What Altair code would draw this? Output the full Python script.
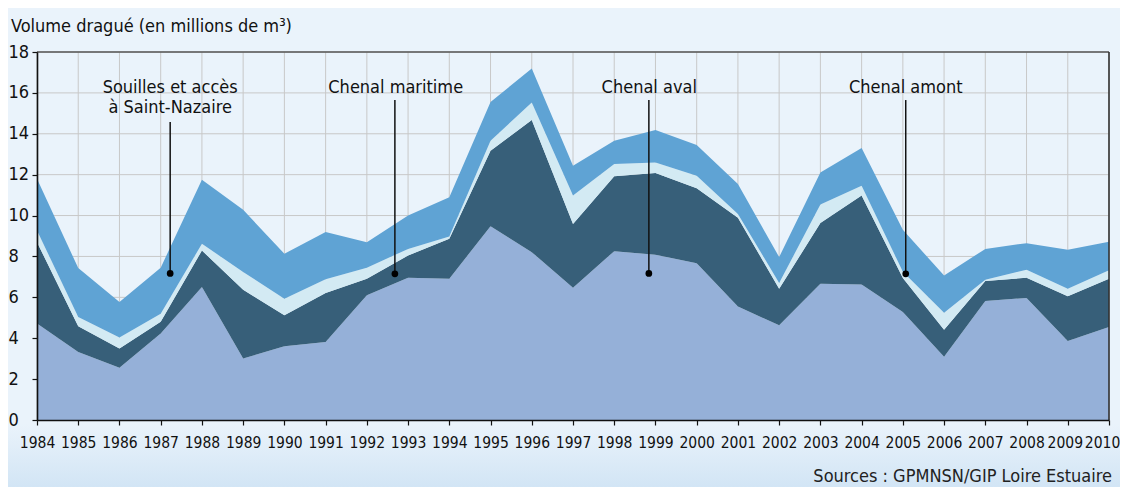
import altair as alt
import pandas as pd

years = list(range(1984, 2011))

# bottom -> top
chenal_aval = [4.72, 3.33, 2.55, 4.23, 6.50, 3.01, 3.61, 3.82, 6.10, 6.96, 6.91, 9.48, 8.21, 6.47,
               8.26, 8.08, 7.67, 5.55, 4.63, 6.67, 6.63, 5.28, 3.09, 5.82, 5.97, 3.87, 4.55]
chenal_maritime = [3.98, 1.26, 0.95, 0.57, 1.79, 3.36, 1.51, 2.39, 0.81, 1.09, 1.95, 3.69, 6.46, 3.12,
                   3.66, 4.00, 3.66, 4.34, 1.79, 2.96, 4.35, 1.67, 1.33, 0.98, 0.99, 2.18, 2.36]
chenal_amont = [0.57, 0.45, 0.53, 0.40, 0.33, 0.87, 0.81, 0.67, 0.54, 0.32, 0.12, 0.49, 0.86, 1.39,
                0.60, 0.52, 0.62, 0.19, 0.28, 0.91, 0.48, 0.30, 0.82, 0.06, 0.39, 0.37, 0.41]
souilles = [2.53, 2.39, 1.74, 2.25, 3.13, 3.04, 2.20, 2.31, 1.25, 1.63, 1.91, 1.90, 1.66, 1.46,
            1.14, 1.58, 1.50, 1.46, 1.27, 1.57, 1.84, 2.05, 1.83, 1.51, 1.30, 1.91, 1.40]

series_names = ["Chenal aval", "Chenal maritime", "Chenal amont", "Souilles et accès à Saint-Nazaire"]
series_colors = ["#95B0D8", "#375F79", "#D3EAF3", "#5FA3D4"]
y_ticks = list(range(0, 19, 2))

# annotations: label lines, anchor year, label baseline value, leader top, dot value
ann_text = ["Souilles et accès", "à Saint-Nazaire", "Chenal maritime", "Chenal aval", "Chenal amont"]
ann_text_x = [1987.23, 1987.23, 1992.70, 1998.85, 2005.07]
ann_text_y = [16.0, 15.02, 16.0, 16.0, 16.0]
lead_x = [1987.23, 1992.68, 1998.84, 2005.07]
lead_top = [14.58, 15.65, 15.65, 15.65]
lead_dot = [7.17, 7.15, 7.17, 7.15]

title_text = "Volume dragué (en millions de m³)"
source_text = "Sources : GPMNSN/GIP Loire Estuaire"

FONT = "Liberation Sans Narrow, Noto Sans Condensed, DejaVu Sans Condensed, sans-serif"
W, H = 1072, 368

rows = []
for i, (name, vals) in enumerate(zip(series_names, [chenal_aval, chenal_maritime, chenal_amont, souilles])):
    for yr, v in zip(years, vals):
        rows.append({"year": yr, "serie": name, "value": v, "rank": i})
df = pd.DataFrame(rows)

xscale = alt.Scale(domain=[1984, 2010], nice=False, zero=False)
yscale = alt.Scale(domain=[0, 18], nice=False)

X_AX = alt.Axis(values=years, format="d", title=None, grid=False, zindex=1,
                labelFont=FONT, labelFontSize=15.5, labelColor="#111111",
                labelPadding=10, labelFlush=False, labelOverlap=False,
                labelOffset={"condition": [{"test": "datum.value == 2010", "value": -7},
                                           {"test": "datum.value == 2009", "value": -3}],
                             "value": 0},
                tickSize=5, tickColor="#111111", tickWidth=1.2,
                domainColor="#111111", domainWidth=1.6)
Y_AX = alt.Axis(values=y_ticks, title=None, grid=False, zindex=1,
                labelFont=FONT, labelFontSize=18, labelColor="#111111",
                labelAlign="left", labelBaseline="middle", labelPadding=24,
                tickSize=5, tickColor="#111111", tickWidth=1.2,
                domainColor="#111111", domainWidth=1.6)

grad = alt.Gradient(gradient="linear",
                    stops=[alt.GradientStop(color="#EAF3FB", offset=0),
                           alt.GradientStop(color="#D2E5F5", offset=1)],
                    x1=0, x2=0, y1=0, y2=1)

band = alt.Chart(pd.DataFrame({"k": [0]})).mark_rect(color=grad).encode(
    x=alt.value(-29), x2=alt.value(W + 11), y=alt.value(H + 4), y2=alt.value(H + 67))

vgrid = alt.Chart(pd.DataFrame({"year": years})).mark_rule(color="#C8C8C8", strokeWidth=1).encode(
    x=alt.X("year:Q", scale=xscale, axis=X_AX))
hgrid = alt.Chart(pd.DataFrame({"v": y_ticks})).mark_rule(color="#C8C8C8", strokeWidth=1).encode(
    y=alt.Y("v:Q", scale=yscale, axis=Y_AX))

areas = alt.Chart(df).mark_area(interpolate="linear", strokeWidth=0).encode(
    x=alt.X("year:Q", scale=xscale, axis=X_AX),
    y=alt.Y("value:Q", stack="zero", scale=yscale, axis=Y_AX),
    color=alt.Color("serie:N", scale=alt.Scale(domain=series_names, range=series_colors), legend=None),
    order=alt.Order("rank:Q", sort="ascending"),
)

top_border = alt.Chart(pd.DataFrame({"v": [18]})).mark_rule(color="#555555", strokeWidth=1.5).encode(
    y=alt.Y("v:Q", scale=yscale, axis=Y_AX))
right_border = alt.Chart(pd.DataFrame({"year": [2010]})).mark_rule(color="#333333", strokeWidth=1.6).encode(
    x=alt.X("year:Q", scale=xscale, axis=X_AX))

lead_df = pd.DataFrame({"x": lead_x, "top": lead_top, "dot": lead_dot})
leaders = alt.Chart(lead_df).mark_rule(color="#111111", strokeWidth=1.5).encode(
    x=alt.X("x:Q", scale=xscale, axis=X_AX),
    y=alt.Y("top:Q", scale=yscale, axis=Y_AX),
    y2="dot:Q")
dots = alt.Chart(lead_df).mark_circle(color="#000000", opacity=1, size=45).encode(
    x=alt.X("x:Q", scale=xscale, axis=X_AX),
    y=alt.Y("dot:Q", scale=yscale, axis=Y_AX))

txt_df = pd.DataFrame({"t": ann_text, "x": ann_text_x, "y": ann_text_y})
labels = alt.Chart(txt_df).mark_text(font=FONT, fontSize=18, color="#111111", align="center",
                                     baseline="alphabetic").encode(
    x=alt.X("x:Q", scale=xscale, axis=X_AX),
    y=alt.Y("y:Q", scale=yscale, axis=Y_AX),
    text="t:N")

title = alt.Chart(pd.DataFrame({"t": [title_text]})).mark_text(
    font=FONT, fontSize=18, color="#111111", align="left", baseline="alphabetic").encode(
    x=alt.value(-26), y=alt.value(-20), text="t:N")
source = alt.Chart(pd.DataFrame({"t": [source_text]})).mark_text(
    font=FONT, fontSize=18, color="#222222", align="right", baseline="alphabetic").encode(
    x=alt.value(W + 3), y=alt.value(H + 62), text="t:N")

chart = alt.layer(band, vgrid, hgrid, areas, top_border, right_border, leaders, dots, labels, title, source).properties(
    width=W, height=H,
    padding={"left": 29, "top": 44, "right": 11, "bottom": 67},
    autosize=alt.AutoSizeParams(type="none"),
    background="#EAF3FB",
).configure_view(stroke=None)

chart.save("out.html", embed_options={"renderer": "svg", "actions": False})
